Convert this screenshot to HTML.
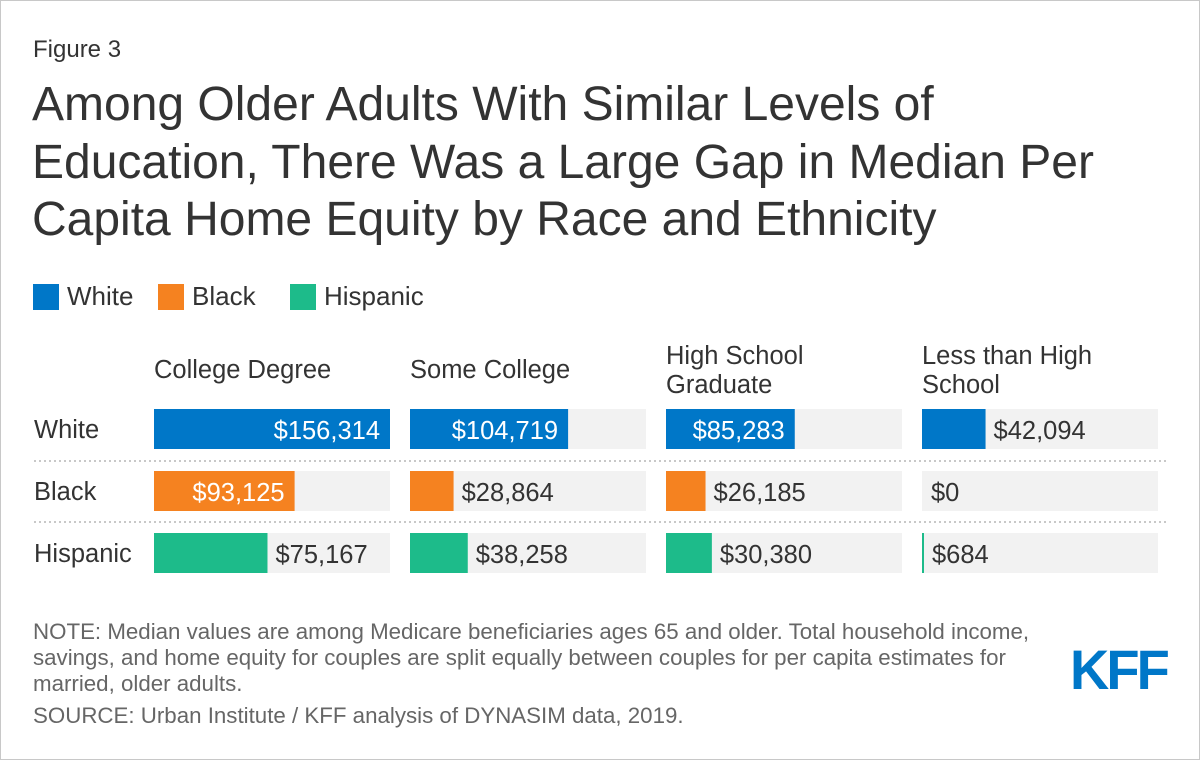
<!DOCTYPE html>
<html><head><meta charset="utf-8"><style>
body{margin:0;background:#fff;font-family:"Liberation Sans",Arial,sans-serif;color:#333}
#wrap{position:relative;width:1200px;height:760px;overflow:hidden;background:#fff}
#frame{position:absolute;left:0;top:0;width:1198px;height:758px;border:1px solid #c8c8c8;pointer-events:none}
.t{position:absolute;white-space:nowrap}
</style></head><body>
<div id="wrap">
<div id="frame"></div>
<div class="t" style="left:33px;top:36px;font-size:24px;color:#333">Figure 3</div>
<div class="t" style="left:32px;top:76px;font-size:48px;line-height:57.5px;color:#333">Among Older Adults With Similar Levels of<br>Education, There Was a Large Gap in Median Per<br>Capita Home Equity by Race and Ethnicity</div>
<div id="legend"></div>
<svg id="chart" width="1200" height="600" style="position:absolute;left:0;top:0"></svg>
<div class="t" style="left:33px;top:619px;font-size:22.3px;line-height:26px;color:#666">NOTE: Median values are among Medicare beneficiaries ages 65 and older. Total household income,<br>savings, and home equity for couples are split equally between couples for per capita estimates for<br>married, older adults.</div>
<div class="t" style="left:33px;top:703px;font-size:22.3px;line-height:26px;color:#666">SOURCE: Urban Institute / KFF analysis of DYNASIM data, 2019.</div>
<div class="t" style="left:1070px;top:637px;font-size:56px;font-weight:bold;color:#0077c8;letter-spacing:-3px;transform:scaleX(0.97);transform-origin:left">KFF</div>
</div>
<script>
const categories=["College Degree","Some College","High School Graduate","Less than High School"];
const categoryLines=[["College Degree"],["Some College"],["High School","Graduate"],["Less than High","School"]];
const groups=["White","Black","Hispanic"];
const white=[156314,104719,85283,42094];
const black=[93125,28864,26185,0];
const hispanic=[75167,38258,30380,684];
const colors=["#0077c8","#f58220","#1dbb8a"];
const series=[white,black,hispanic];
const NS="http://www.w3.org/2000/svg";
const svg=document.getElementById("chart");
const panelX=[154,410,666,922],panelW=236,rowY=[409,471,533],barH=40;
const maxV=Math.max(...white,...black,...hispanic);
const x=v=>v/maxV*panelW;
const fmt=v=>"$"+v.toLocaleString("en-US");
function mk(tag,attrs){const e=document.createElementNS(NS,tag);for(const k in attrs)e.setAttribute(k,attrs[k]);svg.appendChild(e);return e;}
const leg=document.getElementById("legend");
const legX=[33,158,290];
groups.forEach((g,i)=>{
 const lx=legX[i];
 const s=document.createElement("div");s.className="t";
 s.style.cssText=`left:${lx}px;top:284px;width:26px;height:26px;background:${colors[i]}`;
 
 
 leg.appendChild(s);
 const t=document.createElement("div");t.className="t";
 t.style.cssText=`left:${lx+34}px;top:281px;font-size:26px`;t.textContent=g;
 
 
 leg.appendChild(t);
});
categoryLines.forEach((lines,c)=>{
 const base=lines.length===1?378:364;
 lines.forEach((ln,j)=>{
  const t=mk("text",{x:panelX[c],y:base+j*29,"font-size":25.5,fill:"#333"});t.textContent=ln;
  
  
 });
});
[461,522].forEach(yy=>{
 const l=mk("line",{x1:34,x2:1166,y1:yy,y2:yy,stroke:"#c8c8c8","stroke-width":2,"stroke-dasharray":"2,3"});
 
 
});
groups.forEach((g,r)=>{
 const lab=mk("text",{x:34,y:rowY[r]+29,"font-size":25.5,fill:"#333"});lab.textContent=g;
 
 
 series[r].forEach((v,c)=>{
  const bg=mk("rect",{x:panelX[c],y:rowY[r],width:panelW,height:barH,fill:"#f2f2f2"});
  
  
  let w=x(v);if(v>0&&w<2)w=2;
  const b=mk("rect",{x:panelX[c],y:rowY[r],width:w,height:barH,fill:colors[r]});
  
  
  const inside=w>125;
  const t=mk("text",{x:inside?panelX[c]+w-10:panelX[c]+w+(v>0?8:9),y:rowY[r]+30,"font-size":25.5,fill:inside?"#fff":"#333","text-anchor":inside?"end":"start"});
  t.textContent=fmt(v);
  
  
 });
});
</script>
</body></html>
